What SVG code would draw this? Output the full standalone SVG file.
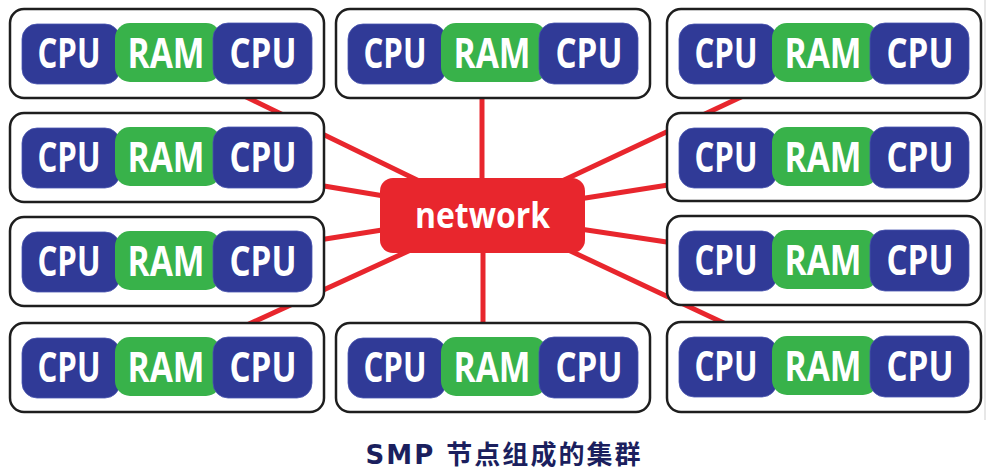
<svg xmlns="http://www.w3.org/2000/svg" width="988" height="476" viewBox="0 0 988 476">
<style>
.box{fill:#fff;stroke:#1e1e1e;stroke-width:2.5}
.cpu{fill:#303a97;stroke:#4a55b0;stroke-width:0.8}
.ram{fill:#38b24a}
.lbl{font-family:"Open Sans","Noto Sans",sans-serif;font-weight:bold;font-size:42px;fill:#fff;text-anchor:middle}
.link{stroke:#e8262d;stroke-width:5;fill:none;stroke-linecap:butt}
.net{fill:#e8262d}
.netlbl{font-family:"Open Sans","Noto Sans",sans-serif;font-weight:bold;font-size:35px;fill:#fff;text-anchor:middle}
.cap{font-family:"DejaVu Sans","Noto Sans CJK SC",sans-serif;font-weight:bold;font-size:26px;fill:#1b1f5e;text-anchor:middle;letter-spacing:2px}
</style>
<rect width="988" height="476" fill="#fff"/>
<line x1="985" y1="0" x2="985" y2="420" stroke="#cfcfcf" stroke-width="1"/>
<g id="connectors">
<line class="link" x1="482" y1="95" x2="482" y2="200"/>
<line class="link" x1="483" y1="230" x2="483" y2="326"/>
<line class="link" x1="236" y1="92" x2="450" y2="196"/>
<line class="link" x1="300" y1="182" x2="420" y2="202"/>
<line class="link" x1="300" y1="243" x2="420" y2="224"/>
<line class="link" x1="450" y1="232" x2="236" y2="330"/>
<line class="link" x1="756" y1="90" x2="530" y2="196"/>
<line class="link" x1="700" y1="180" x2="560" y2="202"/>
<line class="link" x1="700" y1="247" x2="560" y2="226"/>
<line class="link" x1="530" y1="232" x2="745" y2="333"/>
</g>
<g id="network">
<rect class="net" x="380" y="178" width="205" height="75" rx="13"/>
<text class="netlbl" x="482.5" y="228" textLength="135" lengthAdjust="spacingAndGlyphs">network</text>
</g>
<g id="node-l1" transform="translate(10,9)">
<rect class="box" x="0" y="0" width="314" height="89" rx="14"/>
<rect class="cpu" x="12" y="15" width="98" height="60" rx="15"/>
<rect class="ram" x="105" y="14" width="106" height="59" rx="15"/>
<rect class="cpu" x="203" y="14" width="99" height="61" rx="15"/>
<text class="lbl" x="59" y="59" textLength="63" lengthAdjust="spacingAndGlyphs">CPU</text>
<text class="lbl" x="156" y="59" textLength="77" lengthAdjust="spacingAndGlyphs">RAM</text>
<text class="lbl" x="253" y="59" textLength="67" lengthAdjust="spacingAndGlyphs">CPU</text>
</g>
<g id="node-l2" transform="translate(10,113)">
<rect class="box" x="0" y="0" width="314" height="89" rx="14"/>
<rect class="cpu" x="12" y="15" width="98" height="60" rx="15"/>
<rect class="ram" x="105" y="14" width="106" height="59" rx="15"/>
<rect class="cpu" x="203" y="14" width="99" height="61" rx="15"/>
<text class="lbl" x="59" y="59" textLength="63" lengthAdjust="spacingAndGlyphs">CPU</text>
<text class="lbl" x="156" y="59" textLength="77" lengthAdjust="spacingAndGlyphs">RAM</text>
<text class="lbl" x="253" y="59" textLength="67" lengthAdjust="spacingAndGlyphs">CPU</text>
</g>
<g id="node-l3" transform="translate(10,217)">
<rect class="box" x="0" y="0" width="314" height="89" rx="14"/>
<rect class="cpu" x="12" y="15" width="98" height="60" rx="15"/>
<rect class="ram" x="105" y="14" width="106" height="59" rx="15"/>
<rect class="cpu" x="203" y="14" width="99" height="61" rx="15"/>
<text class="lbl" x="59" y="59" textLength="63" lengthAdjust="spacingAndGlyphs">CPU</text>
<text class="lbl" x="156" y="59" textLength="77" lengthAdjust="spacingAndGlyphs">RAM</text>
<text class="lbl" x="253" y="59" textLength="67" lengthAdjust="spacingAndGlyphs">CPU</text>
</g>
<g id="node-l4" transform="translate(10,323)">
<rect class="box" x="0" y="0" width="314" height="89" rx="14"/>
<rect class="cpu" x="12" y="15" width="98" height="60" rx="15"/>
<rect class="ram" x="105" y="14" width="106" height="59" rx="15"/>
<rect class="cpu" x="203" y="14" width="99" height="61" rx="15"/>
<text class="lbl" x="59" y="59" textLength="63" lengthAdjust="spacingAndGlyphs">CPU</text>
<text class="lbl" x="156" y="59" textLength="77" lengthAdjust="spacingAndGlyphs">RAM</text>
<text class="lbl" x="253" y="59" textLength="67" lengthAdjust="spacingAndGlyphs">CPU</text>
</g>
<g id="node-m1" transform="translate(336,9)">
<rect class="box" x="0" y="0" width="314" height="89" rx="14"/>
<rect class="cpu" x="12" y="15" width="98" height="60" rx="15"/>
<rect class="ram" x="105" y="14" width="106" height="59" rx="15"/>
<rect class="cpu" x="203" y="14" width="99" height="61" rx="15"/>
<text class="lbl" x="59" y="59" textLength="63" lengthAdjust="spacingAndGlyphs">CPU</text>
<text class="lbl" x="156" y="59" textLength="77" lengthAdjust="spacingAndGlyphs">RAM</text>
<text class="lbl" x="253" y="59" textLength="67" lengthAdjust="spacingAndGlyphs">CPU</text>
</g>
<g id="node-m2" transform="translate(336,323)">
<rect class="box" x="0" y="0" width="314" height="89" rx="14"/>
<rect class="cpu" x="12" y="15" width="98" height="60" rx="15"/>
<rect class="ram" x="105" y="14" width="106" height="59" rx="15"/>
<rect class="cpu" x="203" y="14" width="99" height="61" rx="15"/>
<text class="lbl" x="59" y="59" textLength="63" lengthAdjust="spacingAndGlyphs">CPU</text>
<text class="lbl" x="156" y="59" textLength="77" lengthAdjust="spacingAndGlyphs">RAM</text>
<text class="lbl" x="253" y="59" textLength="67" lengthAdjust="spacingAndGlyphs">CPU</text>
</g>
<g id="node-r1" transform="translate(667,9)">
<rect class="box" x="0" y="0" width="314" height="89" rx="14"/>
<rect class="cpu" x="12" y="15" width="98" height="60" rx="15"/>
<rect class="ram" x="105" y="14" width="106" height="59" rx="15"/>
<rect class="cpu" x="203" y="14" width="99" height="61" rx="15"/>
<text class="lbl" x="59" y="59" textLength="63" lengthAdjust="spacingAndGlyphs">CPU</text>
<text class="lbl" x="156" y="59" textLength="77" lengthAdjust="spacingAndGlyphs">RAM</text>
<text class="lbl" x="253" y="59" textLength="67" lengthAdjust="spacingAndGlyphs">CPU</text>
</g>
<g id="node-r2" transform="translate(667,113)">
<rect class="box" x="0" y="0" width="314" height="88" rx="14"/>
<rect class="cpu" x="12" y="15" width="98" height="60" rx="15"/>
<rect class="ram" x="105" y="14" width="106" height="59" rx="15"/>
<rect class="cpu" x="203" y="14" width="99" height="61" rx="15"/>
<text class="lbl" x="59" y="59" textLength="63" lengthAdjust="spacingAndGlyphs">CPU</text>
<text class="lbl" x="156" y="59" textLength="77" lengthAdjust="spacingAndGlyphs">RAM</text>
<text class="lbl" x="253" y="59" textLength="67" lengthAdjust="spacingAndGlyphs">CPU</text>
</g>
<g id="node-r3" transform="translate(667,216)">
<rect class="box" x="0" y="0" width="314" height="89" rx="14"/>
<rect class="cpu" x="12" y="15" width="98" height="60" rx="15"/>
<rect class="ram" x="105" y="14" width="106" height="59" rx="15"/>
<rect class="cpu" x="203" y="14" width="99" height="61" rx="15"/>
<text class="lbl" x="59" y="59" textLength="63" lengthAdjust="spacingAndGlyphs">CPU</text>
<text class="lbl" x="156" y="59" textLength="77" lengthAdjust="spacingAndGlyphs">RAM</text>
<text class="lbl" x="253" y="59" textLength="67" lengthAdjust="spacingAndGlyphs">CPU</text>
</g>
<g id="node-r4" transform="translate(667,322)">
<rect class="box" x="0" y="0" width="314" height="90" rx="14"/>
<rect class="cpu" x="12" y="15" width="98" height="60" rx="15"/>
<rect class="ram" x="105" y="14" width="106" height="59" rx="15"/>
<rect class="cpu" x="203" y="14" width="99" height="61" rx="15"/>
<text class="lbl" x="59" y="59" textLength="63" lengthAdjust="spacingAndGlyphs">CPU</text>
<text class="lbl" x="156" y="59" textLength="77" lengthAdjust="spacingAndGlyphs">RAM</text>
<text class="lbl" x="253" y="59" textLength="67" lengthAdjust="spacingAndGlyphs">CPU</text>
</g>
<text class="cap" x="504" y="464" textLength="277" lengthAdjust="spacing">SMP 节点组成的集群</text>
</svg>
